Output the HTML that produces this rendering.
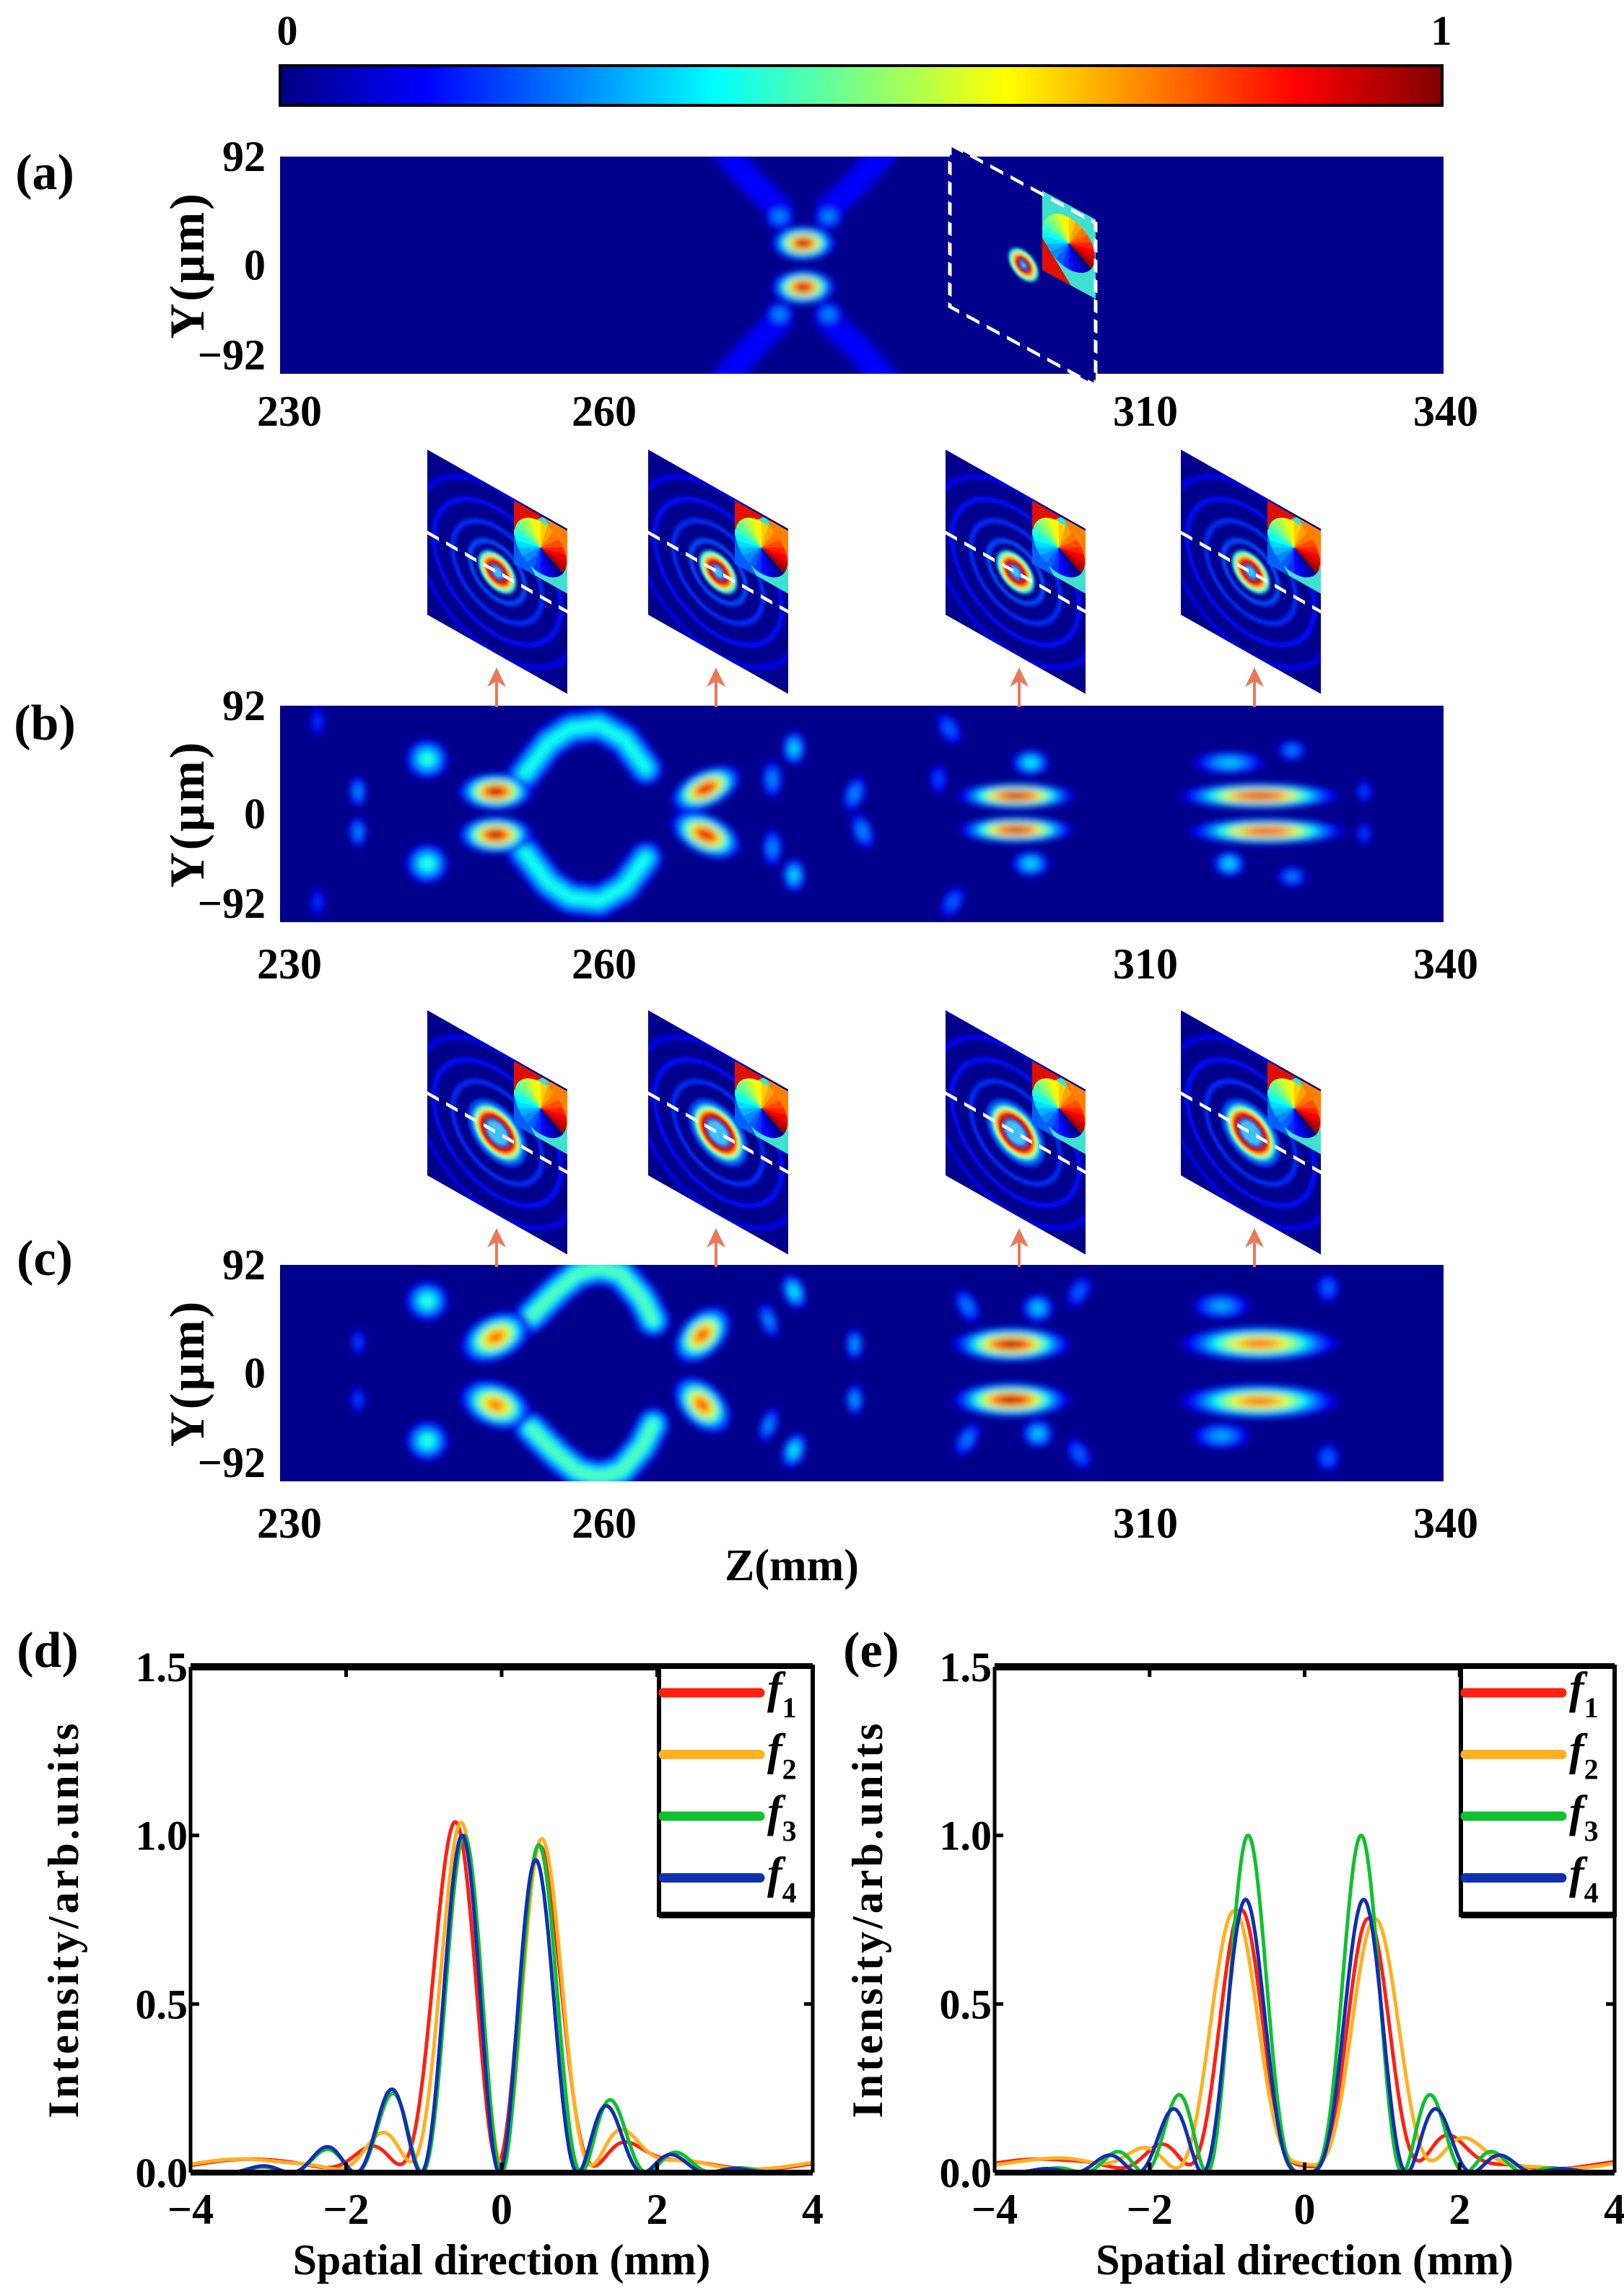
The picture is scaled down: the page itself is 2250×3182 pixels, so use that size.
<!DOCTYPE html>
<html><head><meta charset="utf-8"><style>
html,body{margin:0;padding:0;background:#fff}
svg text{font-family:"Liberation Serif",serif;font-weight:bold;fill:#000}
</style></head><body>
<svg id="s" xmlns="http://www.w3.org/2000/svg" width="2250" height="3177" viewBox="0 0 2250 3177">
<defs>
<filter id="bl" x="-20%" y="-20%" width="140%" height="140%"><feGaussianBlur stdDeviation="5"/></filter>
<filter id="bl2" x="-20%" y="-20%" width="140%" height="140%"><feGaussianBlur stdDeviation="2"/></filter>
<linearGradient id="jet" x1="0" x2="1" y1="0" y2="0">
<stop offset="0" stop-color="#000080"/><stop offset="0.125" stop-color="#0000ff"/><stop offset="0.375" stop-color="#00ffff"/><stop offset="0.625" stop-color="#ffff00"/><stop offset="0.875" stop-color="#ff0000"/><stop offset="1" stop-color="#800000"/>
</linearGradient>
<clipPath id="ca"><rect x="388" y="217" width="1612" height="301"/></clipPath>
<clipPath id="cb"><rect x="388" y="978" width="1612" height="300"/></clipPath>
<clipPath id="cc"><rect x="388" y="1753" width="1612" height="300"/></clipPath>
<clipPath id="cd"><rect x="264" y="2310" width="862" height="701"/></clipPath>
<clipPath id="ce"><rect x="1378" y="2310" width="859" height="701"/></clipPath>
<clipPath id="ci"><rect x="0" y="0" width="194" height="229"/></clipPath>
</defs>
<text x="398" y="62" font-size="58" text-anchor="middle">0</text>
<text x="1997" y="62" font-size="58" text-anchor="middle">1</text>
<rect x="388" y="91" width="1610" height="55" fill="url(#jet)" stroke="#000" stroke-width="4"/>
<text x="62" y="262" font-size="70" text-anchor="middle" font-weight="normal">(a)</text>
<text x="62" y="1025" font-size="70" text-anchor="middle" font-weight="normal">(b)</text>
<text x="62" y="1767" font-size="70" text-anchor="middle" font-weight="normal">(c)</text>
<g id="hm"></g>
<g id="axes"></g>
<text x="1097" y="2190" font-size="62" text-anchor="middle">Z(mm)</text>
<text x="66" y="2310" font-size="70" text-anchor="middle" font-weight="normal">(d)</text>
<text x="1207" y="2310" font-size="70" text-anchor="middle" font-weight="normal">(e)</text>
<g id="plots"></g>
</svg>
<script>
var NS="http://www.w3.org/2000/svg";
function el(p,t,a,txt){var e=document.createElementNS(NS,t);for(var k in a)e.setAttribute(k,a[k]);if(txt!=null)e.textContent=txt;p.appendChild(e);return e;}
function cl(v){return Math.max(0,Math.min(1,v));}
function jet(v){var r=cl(1.5-Math.abs(4*v-3)),g=cl(1.5-Math.abs(4*v-2)),b=cl(1.5-Math.abs(4*v-1));return "rgb("+Math.round(r*255)+","+Math.round(g*255)+","+Math.round(b*255)+")";}
var hm=document.getElementById("hm");
var BG="#00008c";
function blob(g,x,y,rx,ry,pk,rot){
  var base=0.09; if(pk<=base)return;
  var s=Math.sqrt(2*Math.log(pk/base));
  var gg=el(g,"g",{transform:"translate("+x+","+y+") rotate("+(rot||0)+")"});
  for(var t=base;t<pk;t+=0.035){
    var f=Math.sqrt(2*Math.log(pk/t))/s;
    el(gg,"ellipse",{cx:0,cy:0,rx:rx*f,ry:ry*f,fill:jet(t)});
  }
}
function path(g,pts,r,pk,mir){
  var base=0.09,s=Math.sqrt(2*Math.log(pk/base));
  var d1="",d2="";
  pts.forEach(function(p,i){d1+=(i?"L":"M")+p[0]+","+p[1];if(mir!=null)d2+=(i?"L":"M")+p[0]+","+(2*mir-p[1]);});
  for(var t=base;t<pk;t+=0.035){
    var f=Math.sqrt(2*Math.log(pk/t))/s;
    var a={fill:"none",stroke:jet(t),"stroke-width":2*r*f,"stroke-linecap":"round","stroke-linejoin":"round"};
    a.d=d1;el(g,"path",a);
    if(mir!=null){var b={};for(var k in a)b[k]=a[k];b.d=d2;el(g,"path",b);}
  }
}
function panel(y0,h,id,blobs,extra){
  var g=el(hm,"g",{"clip-path":"url(#"+id+")"});
  el(g,"rect",{x:388,y:y0,width:1612,height:h,fill:BG});
  var gb=el(g,"g",{filter:"url(#bl)"});
  if(extra)extra(gb);
  blobs.forEach(function(b){blob(gb,b[0],b[1],b[2],b[3],b[4],b[5]);});
}
panel(217,301,"ca",[
 [1113,337,44,24,1.0],[1113,398,44,24,1.0],
 [1080,300,20,18,0.3],[1148,300,20,18,0.3],[1080,436,20,18,0.3],[1148,436,20,18,0.3]
],function(g){
 path(g,[[1080,290],[1040,250],[1005,210]],20,0.15,367);
 path(g,[[1148,290],[1190,250],[1225,210]],20,0.15,367);
});
var bb=[
 [687,1097,52,26,1.0],[687,1157,52,26,1.0],
 [978,1093,52,26,0.95,-25],[978,1157,52,28,0.95,25],
 [496,1097,12,22,0.3],[496,1153,12,22,0.3],
 [592,1052,30,28,0.45],[592,1197,30,28,0.45],
 [1100,1037,16,24,0.38],[1100,1213,16,24,0.38],[1070,1080,14,26,0.3],[1070,1175,14,26,0.3],
 [1184,1100,14,26,0.3,20],[1195,1152,14,26,0.3,-20],
 [1428,1057,26,18,0.4],[1428,1197,26,18,0.38],
 [1703,1057,50,16,0.35],[1703,1197,22,18,0.38],[1790,1040,20,14,0.28],[1790,1215,20,14,0.28],
 [1315,1010,14,24,0.25,-30],[1320,1250,14,24,0.25,30],[1300,1080,12,20,0.22],
 [1890,1097,10,16,0.22],[1890,1155,10,16,0.22],[440,1000,10,20,0.2],[440,1250,10,20,0.2],
 [1408,1103,82,18,1.0],[1408,1150,80,18,0.98],
 [1745,1103,112,18,0.95],[1755,1152,110,18,0.92]
];
panel(978,300,"cb",bb,function(g){
 path(g,[[725,1075],[760,1030],[790,1010],[830,1005],[865,1025],[895,1065]],24,0.42,1127);
});
var bc=[
 [592,1803,30,28,0.45],[592,1997,30,28,0.45],
 [1100,1790,16,26,0.4,-20],[1100,2010,16,26,0.4,20],[1065,1830,12,26,0.3,-20],[1065,1975,12,26,0.3,20],
 [1184,1863,12,22,0.32],[1184,1940,12,22,0.32],
 [1438,1813,22,20,0.36],[1438,1987,22,20,0.36],[1340,1810,14,26,0.28,-30],[1340,1995,14,26,0.28,30],
 [1495,1790,14,24,0.25,30],[1495,2015,14,24,0.25,-30],
 [1692,1810,40,18,0.32],[1692,1990,40,18,0.32],[1840,1785,16,20,0.25],[1840,2020,16,20,0.25],
 [496,1860,10,18,0.22],[496,1940,10,18,0.22],
 [687,1853,52,32,0.82,-25],[687,1947,52,32,0.8,20],
 [973,1850,48,30,0.85,-45],[973,1947,48,30,0.85,45],
 [1401,1863,82,24,1.0],[1401,1940,82,24,1.0],
 [1745,1862,110,24,0.82],[1745,1942,110,24,0.82]
];
panel(1753,300,"cc",bc,function(g){
 path(g,[[735,1825],[770,1790],[800,1765],[830,1757],[860,1765],[890,1800],[905,1830]],24,0.48,1902);
});
var ax=document.getElementById("axes");
[[217,518,590],[978,1278,1356],[1753,2053,2131]].forEach(function(a){
 var mid=(a[0]+a[1])/2;
 el(ax,"text",{x:368,y:a[0]+20,"font-size":60,"text-anchor":"end"},"92");
 el(ax,"text",{x:368,y:mid+20,"font-size":60,"text-anchor":"end"},"0");
 el(ax,"text",{x:368,y:a[1]-6,"font-size":60,"text-anchor":"end"},"\u221292");
 el(ax,"text",{x:0,y:0,"font-size":68,"text-anchor":"middle","letter-spacing":"3",transform:"translate(282,"+mid+") rotate(-90)"},"Y(\u03bcm)");
 [[401,"230"],[837,"260"],[1587,"310"],[2003,"340"]].forEach(function(t){el(ax,"text",{x:t[0],y:a[2],"font-size":60,"text-anchor":"middle"},t[1]);});
});
function phaseDisc(g,cx,cy,r){
 var n=24;
 for(var i=0;i<n;i++){
  var a0=i/n*2*Math.PI-Math.PI*0.75,a1=(i+1.05)/n*2*Math.PI-Math.PI*0.75;
  var v=((i/n)+0.55)%1;
  el(g,"path",{d:"M"+cx+","+cy+" L"+(cx+r*Math.cos(a0))+","+(cy+r*Math.sin(a0))+" A"+r+","+r+" 0 0 1 "+(cx+r*Math.cos(a1))+","+(cy+r*Math.sin(a1))+"Z",fill:jet(v)});
 }
}
function inset(x,y,big){
 var g0=el(hm,"g",{transform:"translate("+x+","+y+") skewY(29.5)"});
 var g=el(g0,"g",{"clip-path":"url(#ci)"});
 el(g,"rect",{x:0,y:0,width:194,height:229,fill:BG});
 var rg=el(g,"g",{filter:"url(#bl2)"});
 [38,62,88,115].forEach(function(r,i){el(rg,"circle",{cx:97,cy:115,r:r,fill:"none",stroke:jet(0.2-i*0.03),"stroke-width":6});});
 var R=big?26:18;
 el(rg,"circle",{cx:97,cy:115,r:R+5,fill:"none",stroke:"#30ffe0","stroke-width":6});
 el(rg,"circle",{cx:97,cy:115,r:R,fill:"none",stroke:"#ffe000","stroke-width":6});
 el(rg,"circle",{cx:97,cy:115,r:R-4,fill:"none",stroke:"#ee1000","stroke-width":7});
 el(rg,"circle",{cx:97,cy:115,r:R-10,fill:"#40c0ff"});
 var sx=120,sy=3,sw=74,sh=87;
 el(g,"rect",{x:sx,y:sy,width:sw,height:sh,fill:"#40e0d0"});
 el(g,"path",{d:"M"+sx+","+sy+" h40 L"+sx+","+(sy+40)+"Z",fill:"#e01000"});
 el(g,"path",{d:"M"+(sx+sw)+","+sy+" v50 L"+(sx+sw-30)+","+sy+"Z",fill:"#ff8000"});
 el(g,"path",{d:"M"+sx+","+(sy+sh)+" v-40 L"+(sx+30)+","+(sy+sh)+"Z",fill:"#0060ff"});
 phaseDisc(g,157,47,36);
 el(g,"line",{x1:0,y1:115,x2:194,y2:115,stroke:"#fff","stroke-width":5,"stroke-dasharray":"16,10"});
}
(function(){
 var g=el(hm,"g",{transform:"translate(1316,200) skewY(28.4)"});
 el(g,"rect",{x:0,y:0,width:202,height:225,fill:BG});
 var rg=el(g,"g",{filter:"url(#bl2)"});
 el(rg,"circle",{cx:102,cy:112,r:18,fill:"none",stroke:"#30ffe0","stroke-width":5});
 el(rg,"circle",{cx:102,cy:112,r:14,fill:"none",stroke:"#ffe000","stroke-width":4});
 el(rg,"circle",{cx:102,cy:112,r:10,fill:"none",stroke:"#ee1000","stroke-width":5});
 el(rg,"circle",{cx:102,cy:112,r:5,fill:"#40c0ff"});
 el(g,"rect",{x:128,y:-5,width:74,height:110,fill:"#40e0d0"});
 el(g,"path",{d:"M128,105 h40 L128,60Z",fill:"#e01000"});
 phaseDisc(g,165,48,36);
 el(g,"rect",{x:0,y:0,width:202,height:225,fill:"none",stroke:"#fff","stroke-width":5,"stroke-dasharray":"18,10"});
})();
[592,898,1310,1636].forEach(function(x){inset(x,623,false);inset(x,1400,true);});
[[688,925,980],[992,925,980],[1412,925,980],[1738,925,980],[688,1702,1756],[992,1702,1756],[1412,1702,1756],[1738,1702,1756]].forEach(function(a){
 el(hm,"line",{x1:a[0],y1:a[1]+10,x2:a[0],y2:a[2],stroke:"#e8795a","stroke-width":4});
 el(hm,"path",{d:"M"+a[0]+","+a[1]+" l-13,27 l13,-8 l13,8Z",fill:"#e8795a"});
});
function Jn(n,x){var N=120,s=0;for(var i=0;i<N;i++){var t=(i+0.5)/N*Math.PI;s+=Math.cos(n*t-x*Math.sin(t));}return s/N;}
var P=document.getElementById("plots");
function plot(L,R,clip,curves,ylabx){
 var T=2310,B=3011,cx=(L+R)/2,sx=(R-L)/8,sy=(B-T)/1.5;
 var g=el(P,"g",{"clip-path":"url(#"+clip+")"});
 curves.forEach(function(c){
  var f=function(x){var u=x-c.s;var v=Jn(c.n,c.k*u);return v*v*Math.exp(-(u/c.w)*(u/c.w))*(1+c.a*u);};
  var mx=0;for(var x=-4;x<=0;x+=0.01){mx=Math.max(mx,f(x));}
  var d="";for(var i=0;i<=800;i++){var x=-4+i*0.01;var y=c.p*f(x)/mx+(c.b||0)*(1+0.6*Math.sin(2.4*x+c.k));d+=(i?"L":"M")+(cx+x*sx).toFixed(1)+","+(B-y*sy).toFixed(1);}
  el(g,"path",{d:d,fill:"none",stroke:c.col,"stroke-width":5});
 });
 el(P,"line",{x1:L,y1:T,x2:R,y2:T,stroke:"#000","stroke-width":10});
 el(P,"line",{x1:L,y1:B,x2:R,y2:B,stroke:"#000","stroke-width":8});
 el(P,"line",{x1:L,y1:T,x2:L,y2:B,stroke:"#000","stroke-width":5});
 el(P,"line",{x1:R,y1:T,x2:R,y2:B,stroke:"#000","stroke-width":5});
 [-4,-2,0,2,4].forEach(function(v){var x=cx+v*sx;
  el(P,"line",{x1:x,y1:T,x2:x,y2:T+14,stroke:"#000","stroke-width":5});
  el(P,"line",{x1:x,y1:B,x2:x,y2:B-14,stroke:"#000","stroke-width":5});
  el(P,"text",{x:x,y:3082,"font-size":60,"text-anchor":"middle"},(v<0?"\u2212":"")+Math.abs(v));});
 [0,0.5,1,1.5].forEach(function(v){var y=B-v*sy;
  el(P,"line",{x1:L,y1:y,x2:L+12,y2:y,stroke:"#000","stroke-width":5});
  el(P,"line",{x1:R,y1:y,x2:R-12,y2:y,stroke:"#000","stroke-width":5});
  el(P,"text",{x:L-4,y:y+20,"font-size":58,"text-anchor":"end"},v.toFixed(1));});
 el(P,"text",{x:cx,y:3152,"font-size":60,"text-anchor":"middle"},"Spatial direction (mm)");
 el(P,"text",{x:0,y:0,"font-size":60,"text-anchor":"middle","letter-spacing":"4",transform:"translate("+ylabx+",2660) rotate(-90)"},"Intensity/arb.units");
 var lx=R-213;
 el(P,"rect",{x:lx,y:T,width:213,height:344,fill:"#fff",stroke:"#000","stroke-width":6});
 el(P,"line",{x1:lx,y1:T+344,x2:R,y2:T+344,stroke:"#000","stroke-width":9});
 ["#ff2010","#ffb020","#10c030","#1030b0"].forEach(function(c,i){var y=2346+i*85.5;
  el(P,"line",{x1:lx+6,y1:y,x2:lx+140,y2:y,stroke:c,"stroke-width":13,"stroke-linecap":"round"});
  var t=el(P,"text",{x:lx+150,y:y+14,"font-size":62,"font-style":"italic","font-weight":"normal"});
  t.textContent="f";
  el(t,"tspan",{dy:20,"font-size":40,"font-style":"normal"},String(i+1));
 });
}
plot(264,1126,"cd",[
 {n:1,k:3.07,s:-0.05,w:1.2,a:-0.04,p:1.0,col:"#ff2010",b:0.025},
 {n:1,k:3.3,s:0.0,w:1.3,a:-0.02,p:1.0,col:"#ffb020",b:0.025},
 {n:1,k:3.75,s:0,w:2.0,a:-0.03,p:1.0,col:"#10c030"},
 {n:1,k:3.8,s:-0.03,w:2.0,a:-0.08,p:1.0,col:"#1030b0"}
],108);
plot(1378,2237,"ce",[
 {n:2,k:3.47,s:0,w:1.4,a:0,p:0.74,col:"#ff2010",b:0.025},
 {n:2,k:3.11,s:0,w:1.5,a:0,p:0.74,col:"#ffb020",b:0.025},
 {n:2,k:4.07,s:0,w:1.9,a:0,p:1.0,col:"#10c030"},
 {n:2,k:3.9,s:0,w:2.0,a:0,p:0.81,col:"#1030b0"}
],1222);
</script>
</body></html>
